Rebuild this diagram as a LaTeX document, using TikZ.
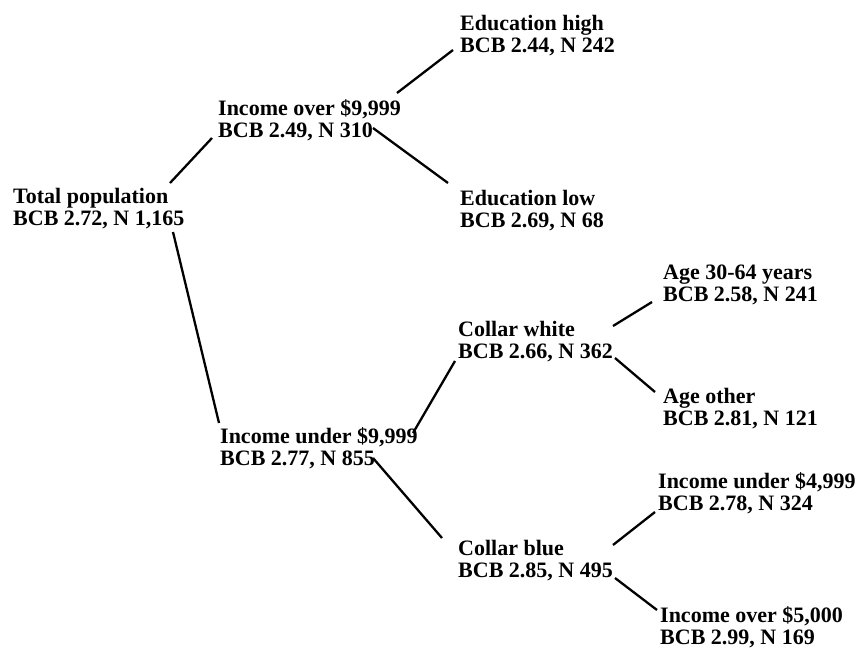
\documentclass[tikz,border=0pt]{standalone}
\usepackage{fontspec}
\setmainfont{Liberation Serif}
\usetikzlibrary{calc}
\begin{document}
\begin{tikzpicture}[x=1pt,y=-1pt,
  lbl/.style={anchor=north west, inner sep=0pt, align=left, font=\bfseries\fontsize{22}{22}\selectfont},
  conn/.style={line width=2.3pt}]
\useasboundingbox (0,0) rectangle (863,648);
\newcommand{\mystrut}{\rule{0pt}{17pt}}
\node[lbl] (total)    at (13,186)  {\mystrut Total population\\BCB 2.72, N 1,165};
\node[lbl] (incover)  at (218,98)  {\mystrut Income over \$9,999\\BCB 2.49, N 310};
\node[lbl] (eduhigh)  at (460,13)  {\mystrut Education high\\BCB 2.44, N 242};
\node[lbl] (edulow)   at (460,188) {\mystrut Education low\\BCB 2.69, N 68};
\node[lbl] (incunder) at (220,426) {\mystrut Income under \$9,999\\BCB 2.77, N 855};
\node[lbl] (cwhite)   at (458,319) {\mystrut Collar white\\BCB 2.66, N 362};
\node[lbl] (cblue)    at (458,538) {\mystrut Collar blue\\BCB 2.85, N 495};
\node[lbl] (age)      at (663,262) {\mystrut Age 30-64 years\\BCB 2.58, N 241};
\node[lbl] (ageother) at (663,386) {\mystrut Age other\\BCB 2.81, N 121};
\node[lbl] (inclow)   at (658,471) {\mystrut Income under \$4,999\\BCB 2.78, N 324};
\node[lbl] (inchigh)  at (660,605) {\mystrut Income over \$5,000\\BCB 2.99, N 169};

\draw[conn] ($(total.north west)+(157,-3)$) -- ($(incover.north west)+(-6,40)$);
\draw[conn] ($(total.north west)+(160,46)$) -- ($(incunder.north west)+(-1,-3)$);
\draw[conn] ($(incover.north west)+(179,-5)$) -- ($(eduhigh.north west)+(-7,37)$);
\draw[conn] ($(incover.north west)+(155,30)$) -- ($(edulow.north west)+(-12,-5)$);
\draw[conn] ($(incunder.north west)+(193,7)$) -- ($(cwhite.north west)+(-3,42)$);
\draw[conn] ($(incunder.north west)+(153,32)$) -- ($(cblue.north west)+(-16,0)$);
\draw[conn] ($(cwhite.north west)+(155,7)$) -- ($(age.north west)+(-11,40)$);
\draw[conn] ($(cwhite.north west)+(157,39)$) -- ($(ageother.north west)+(-8,6)$);
\draw[conn] ($(cblue.north west)+(155,7)$) -- ($(inclow.north west)+(-3,41)$);
\draw[conn] ($(cblue.north west)+(157,40)$) -- ($(inchigh.north west)+(-3,5)$);
\end{tikzpicture}
\end{document}
